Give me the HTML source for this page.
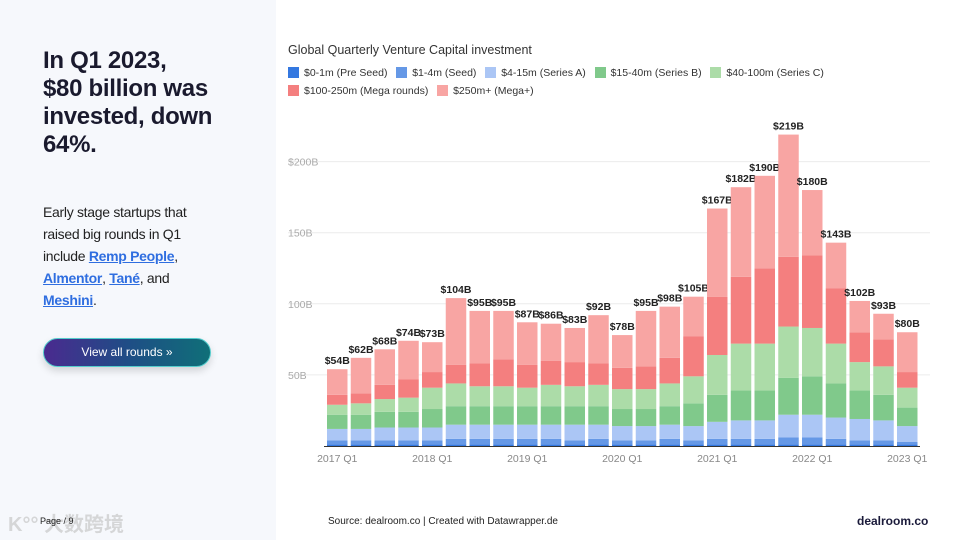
<!DOCTYPE html>
<html><head><meta charset="utf-8">
<style>
*{margin:0;padding:0;box-sizing:border-box}
body{width:960px;height:540px;position:relative;background:#fff;font-family:"Liberation Sans",sans-serif;overflow:hidden}
#left{position:absolute;left:0;top:0;width:276px;height:540px;background:#f6f8fc}
h1{position:absolute;left:43px;top:47px;font-size:24px;line-height:28px;font-weight:bold;color:#1a1a2e;white-space:nowrap;letter-spacing:-0.3px}
p.desc{position:absolute;left:43px;top:201px;font-size:14px;line-height:22px;color:#222;white-space:nowrap;letter-spacing:-0.3px}
p.desc a{color:#2f6ee0;font-weight:bold;text-decoration:underline}
#btn{position:absolute;left:43px;top:338px;width:168px;height:29px;border-radius:15px;background:linear-gradient(90deg,#4a2a8f,#1f4d86,#0f6f78);color:#fff;font-size:12px;text-align:center;line-height:27px;box-shadow:0 4px 8px rgba(0,0,0,.15);border:1px solid #5cc;}
#page{position:absolute;left:40px;top:516px;font-size:9px;color:#222}
#wm{position:absolute;left:8px;top:508px;font-size:20px;color:rgba(200,200,200,.7);font-family:"Liberation Sans","Noto Sans CJK SC",sans-serif;font-weight:bold}
#src{position:absolute;left:328px;top:516px;font-size:10px;color:#222}
#logo{position:absolute;left:857px;top:514px;font-size:12px;font-weight:bold;color:#1a1a3a}
#title{position:absolute;left:288px;top:43px;font-size:12.5px;color:#333}
.leg{position:absolute;font-size:10.5px;color:#333;white-space:nowrap}
.leg i{display:inline-block;width:11px;height:11px;vertical-align:-2px;margin-right:5px}
svg{position:absolute;left:0;top:0}
</style></head><body>
<div id="left"></div>
<h1>In Q1 2023,<br>$80 billion was<br>invested, down<br>64%.</h1>
<p class="desc">Early stage startups that<br>raised big rounds in Q1<br>include <a>Remp People</a>,<br><a>Almentor</a>, <a>Tané</a>, and<br><a>Meshini</a>.</p>
<div id="btn">View all rounds »</div>
<div id="wm">K°° 大数跨境</div>
<div id="page">Page / 9</div>
<div id="src">Source: dealroom.co | Created with Datawrapper.de</div>
<div id="logo">dealroom.co</div>
<div id="title">Global Quarterly Venture Capital investment</div>
<div class="leg" style="left:288px;top:67px">
<span><i style="background:#3478e0"></i>$0-1m (Pre Seed)</span>&nbsp;&nbsp;
<span><i style="background:#6598e6"></i>$1-4m (Seed)</span>&nbsp;&nbsp;
<span><i style="background:#abc6f5"></i>$4-15m (Series A)</span>&nbsp;&nbsp;
<span><i style="background:#80c98b"></i>$15-40m (Series B)</span>&nbsp;&nbsp;
<span><i style="background:#acdca8"></i>$40-100m (Series C)</span>
</div>
<div class="leg" style="left:288px;top:85px">
<span><i style="background:#f47f7f"></i>$100-250m (Mega rounds)</span>&nbsp;&nbsp;
<span><i style="background:#f8a5a3"></i>$250m+ (Mega+)</span>
</div>
<svg id="chart" width="960" height="540"></svg>
<script>
const quarters=["2017 Q1","2017 Q2","2017 Q3","2017 Q4","2018 Q1","2018 Q2","2018 Q3","2018 Q4","2019 Q1","2019 Q2","2019 Q3","2019 Q4","2020 Q1","2020 Q2","2020 Q3","2020 Q4","2021 Q1","2021 Q2","2021 Q3","2021 Q4","2022 Q1","2022 Q2","2022 Q3","2022 Q4","2023 Q1"];
const preSeed=[1,1,1,1,1,1,1,1,1,1,1,1,1,1,1,1,1,1,1,1,1,1,1,1,1];
const seed=[3,3,3,3,3,4,4,4,4,4,3,4,3,3,4,3,4,4,4,5,5,4,3,3,2];
const seriesA=[8,8,9,9,9,10,10,10,10,10,11,10,10,10,10,10,12,13,13,16,16,15,15,14,11];
const seriesB=[10,10,11,11,13,13,13,13,13,13,13,13,12,12,13,16,19,21,21,26,27,24,20,18,13];
const seriesC=[7,8,9,10,15,16,14,14,13,15,14,15,14,14,16,19,28,33,33,36,34,28,20,20,14];
const mega=[7,7,10,13,11,13,16,19,16,17,17,15,15,16,18,28,41,47,53,49,51,39,21,19,11];
const megaPlus=[18,25,25,27,21,47,37,34,30,26,24,34,23,39,36,28,62,63,65,86,46,32,22,18,28];
const totalLabels=["$54B","$62B","$68B","$74B","$73B","$104B","$95B","$95B","$87B","$86B","$83B","$92B","$78B","$95B","$98B","$105B","$167B","$182B","$190B","$219B","$180B","$143B","$102B","$93B","$80B"];
const yTicks=[50,100,150,200];
const yTickLabels=["50B","100B","150B","$200B"];
const xTickIdx=[0,4,8,12,16,20,24];

const NS="http://www.w3.org/2000/svg";
const svg=document.getElementById('chart');
const y0=446, pxPerB=1.422, x0=327, step=23.75, bw=20.5;
const yScale=v=>y0-v*pxPerB;
const xScale=i=>x0+i*step;
function mk(t,a){const e=document.createElementNS(NS,t);for(const k in a)e.setAttribute(k,a[k]);svg.appendChild(e);return e;}
yTicks.forEach((t,i)=>{
  const l=mk('line',{x1:288,x2:930,y1:yScale(t),y2:yScale(t),stroke:'#ececec','stroke-width':1});
  
  
  const tx=mk('text',{x:288,y:yScale(t)+4,'font-size':10.5,fill:'#aaa','font-family':'Liberation Sans'});
  tx.textContent=yTickLabels[i];
  
  
});
const series=[preSeed,seed,seriesA,seriesB,seriesC,mega,megaPlus];
const colors=["#3478e0","#6598e6","#abc6f5","#80c98b","#acdca8","#f47f7f","#f8a5a3"];
const names=["pre-seed","seed","series-a","series-b","series-c","mega","mega-plus"];
quarters.forEach((q,i)=>{
  let cum=0;
  series.forEach((s,k)=>{
    const v=s[i];
    const r=mk('rect',{x:xScale(i),y:yScale(cum+v),width:bw,height:v*pxPerB,fill:colors[k]});
    
    
    cum+=v;
  });
  const t=mk('text',{x:xScale(i)+bw/2,y:yScale(cum)-5,'font-size':10.5,'font-weight':'bold',fill:'#222','text-anchor':'middle','font-family':'Liberation Sans'});
  t.textContent=totalLabels[i];
  
  
});
const ax=mk('line',{x1:324,x2:920,y1:y0+0.5,y2:y0+0.5,stroke:'#333','stroke-width':1});


xTickIdx.forEach(i=>{
  const t=mk('text',{x:xScale(i)+bw/2,y:462,'font-size':10.5,fill:'#888','text-anchor':'middle','font-family':'Liberation Sans'});
  t.textContent=quarters[i];
  
  
});
</script>
</body></html>
